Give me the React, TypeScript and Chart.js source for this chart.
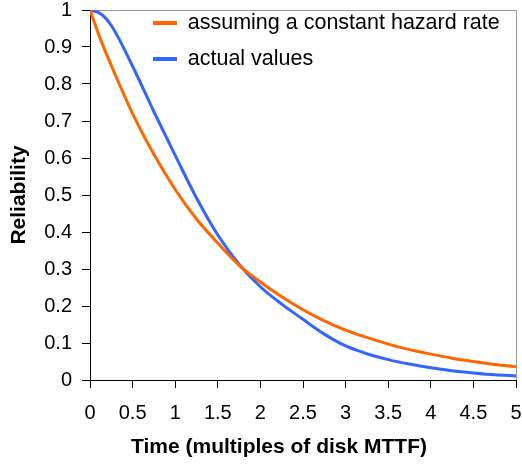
import React, { useEffect, useRef } from "react";
import { Chart, registerables } from "chart.js";

Chart.register(...registerables);

const timeValues = [0, 0.125, 0.25, 0.5, 0.75, 1, 1.25, 1.5, 1.75, 2, 2.25, 2.5, 2.75, 3, 3.25, 3.5, 3.75, 4, 4.25, 4.5, 4.75, 5];
const constantHazard = [1, 0.92, 0.85, 0.72, 0.61, 0.515, 0.435, 0.37, 0.31, 0.265, 0.225, 0.19, 0.16, 0.135, 0.115, 0.097, 0.082, 0.07, 0.059, 0.05, 0.042, 0.036];
const actualValues = [1, 0.99, 0.958, 0.848, 0.725, 0.607, 0.492, 0.392, 0.313, 0.252, 0.205, 0.164, 0.124, 0.092, 0.071, 0.055, 0.043, 0.033, 0.025, 0.019, 0.014, 0.011];
const seriesLabels = ["assuming a constant hazard rate", "actual values"];
const xTitle = "Time (multiples of disk MTTF)";
const yTitle = "Reliability";

const FONT = "'Liberation Sans', Arial, sans-serif";

const fmt = (v: any) => String(Math.round(Number(v) * 10) / 10);

export default function App() {
  const ref = useRef<HTMLCanvasElement | null>(null);
  useEffect(() => {
    if (!ref.current) return;
    const framePlugin = {
      id: "frame",
      afterLayout(chart: any) {
        const lg = chart.legend;
        if (lg) {
          lg.left += 48.5;
          lg.right += 48.5;
          lg.top -= 2.25;
          lg.bottom -= 2.25;
        }
      },
      beforeDatasetsDraw(chart: any) {
        const { ctx, chartArea } = chart;
        ctx.save();
        ctx.strokeStyle = "#9a9a9a";
        ctx.lineWidth = 1;
        ctx.beginPath();
        ctx.moveTo(chartArea.left, chartArea.top + 0.5);
        ctx.lineTo(chartArea.right + 0.5, chartArea.top + 0.5);
        ctx.lineTo(chartArea.right + 0.5, chartArea.bottom);
        ctx.stroke();
        ctx.restore();
      },
      afterDraw(chart: any) {
        const { ctx } = chart;
        ctx.save();
        ctx.fillStyle = "#000";
        ctx.font = `bold 21px ${FONT}`;
        ctx.textAlign = "center";
        ctx.textBaseline = "middle";
        ctx.fillText(xTitle, 279, 447);
        ctx.restore();
      },
    };
    const chart = new Chart(ref.current, {
      type: "line",
      data: {
        datasets: [
          {
            label: seriesLabels[0],
            data: timeValues.map((t, i) => ({ x: t, y: constantHazard[i] })),
            borderColor: "#FF6600",
            backgroundColor: "#FF6600",
            borderWidth: 3,
            pointRadius: 0,
            cubicInterpolationMode: "monotone",
          },
          {
            label: seriesLabels[1],
            data: timeValues.map((t, i) => ({ x: t, y: actualValues[i] })),
            borderColor: "#3366FF",
            backgroundColor: "#3366FF",
            borderWidth: 3,
            pointRadius: 0,
            cubicInterpolationMode: "monotone",
          },
        ],
      },
      options: {
        responsive: false,
        animation: false,
        layout: { padding: 0 },
        plugins: {
          tooltip: { enabled: false },
          legend: {
            position: "chartArea" as any,
            align: "start",
            labels: {
              color: "#000",
              font: { family: FONT, size: 21.5, lineHeight: 1 },
              boxWidth: 24,
              boxHeight: 4,
              padding: 14.5,
              generateLabels: (c: any) =>
                Chart.defaults.plugins.legend.labels.generateLabels(c).map((l: any) => ({ ...l, lineWidth: 0 })),
            },
          },
        },
        scales: {
          x: {
            type: "linear",
            min: 0,
            max: 5,
            ticks: {
              stepSize: 0.5,
              color: "#000",
              padding: 15,
              maxRotation: 0,
              callback: fmt,
              font: { family: FONT, size: 20, lineHeight: 1 },
            },
            grid: { drawOnChartArea: false, drawTicks: true, tickLength: 8, color: "#000" },
            border: { color: "#000", width: 1 },
            afterFit: (s: any) => {
              s.height = 86;
              s.paddingLeft = 0;
              s.paddingRight = 6;
            },
          },
          y: {
            type: "linear",
            min: 0,
            max: 1,
            ticks: {
              stepSize: 0.1,
              color: "#000",
              padding: 10,
              callback: fmt,
              font: { family: FONT, size: 20, lineHeight: 1 },
            },
            grid: { drawOnChartArea: false, drawTicks: true, tickLength: 8, color: "#000" },
            border: { color: "#000", width: 1 },
            title: {
              display: true,
              text: yTitle,
              color: "#000",
              font: { family: FONT, size: 21, weight: "bold", lineHeight: 1 },
              padding: { top: 9, bottom: 0 },
            },
            afterFit: (s: any) => {
              s.width = 90;
              s.paddingTop = 10;
              s.paddingBottom = 0;
            },
          },
        },
      },
      plugins: [framePlugin],
    });
    return () => chart.destroy();
  }, []);
  return (
    <div style={{ position: "absolute", left: 0, top: 0, width: 522, height: 466, background: "#fff" }}>
      <canvas ref={ref} width={522} height={466} />
    </div>
  );
}
